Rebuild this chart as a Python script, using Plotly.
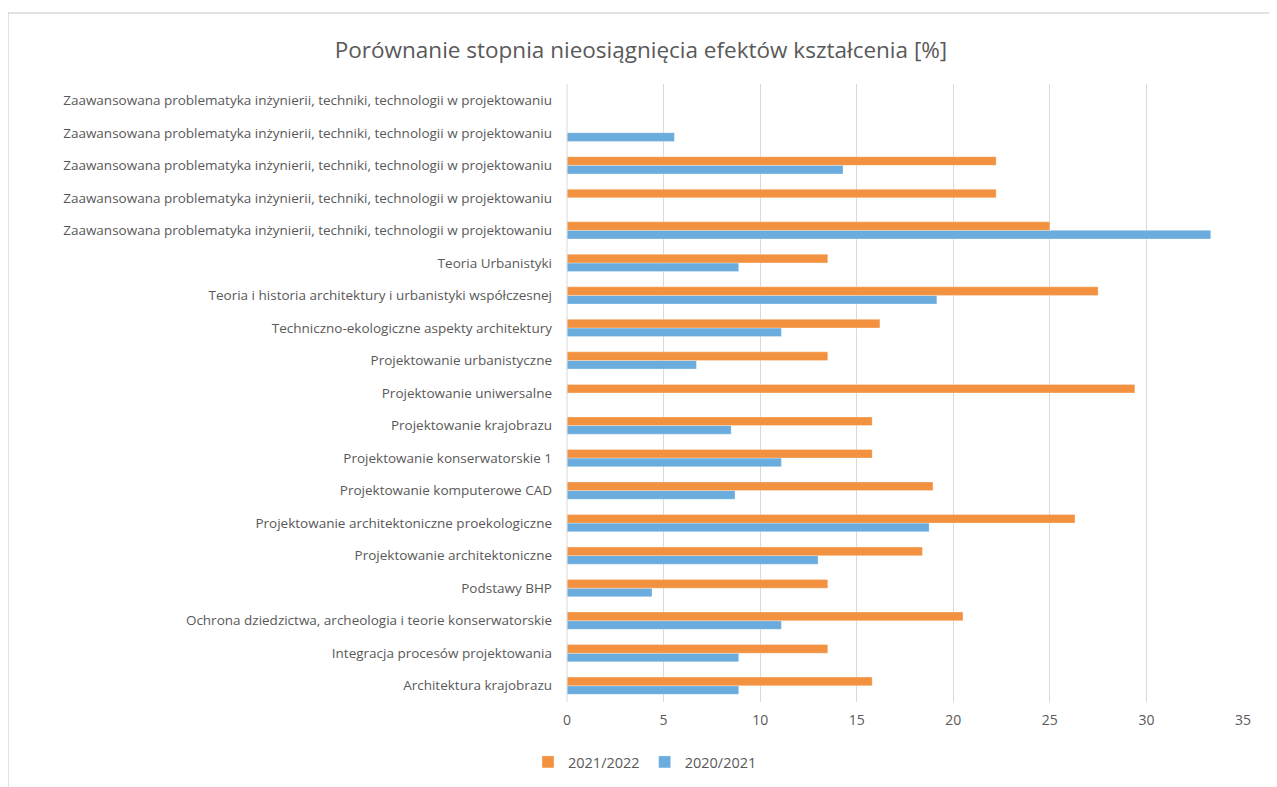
import plotly.graph_objects as go

# Categories listed from bottom to top of the chart
categories = [
    "Architektura krajobrazu",
    "Integracja procesów projektowania",
    "Ochrona dziedzictwa, archeologia i teorie konserwatorskie",
    "Podstawy BHP",
    "Projektowanie architektoniczne",
    "Projektowanie architektoniczne proekologiczne",
    "Projektowanie komputerowe CAD",
    "Projektowanie konserwatorskie 1",
    "Projektowanie krajobrazu",
    "Projektowanie uniwersalne",
    "Projektowanie urbanistyczne",
    "Techniczno-ekologiczne aspekty architektury",
    "Teoria i historia architektury i urbanistyki współczesnej",
    "Teoria Urbanistyki",
    "Zaawansowana problematyka inżynierii, techniki, technologii w projektowaniu",
    "Zaawansowana problematyka inżynierii, techniki, technologii w projektowaniu",
    "Zaawansowana problematyka inżynierii, techniki, technologii w projektowaniu",
    "Zaawansowana problematyka inżynierii, techniki, technologii w projektowaniu",
    "Zaawansowana problematyka inżynierii, techniki, technologii w projektowaniu",
]

values_2021_2022 = [15.8, 13.5, 20.5, 13.5, 18.4, 26.3, 18.95, 15.8, 15.8, 29.4,
                    13.5, 16.2, 27.5, 13.5, 25.0, 22.22, 22.22, None, None]
values_2020_2021 = [8.89, 8.89, 11.1, 4.4, 13.0, 18.75, 8.7, 11.1, 8.5, None,
                    6.7, 11.1, 19.15, 8.89, 33.33, None, 14.29, 5.56, None]

x_ticks = [0, 5, 10, 15, 20, 25, 30, 35]

colors = {"2020/2021": "#6AACDE", "2021/2022": "#F29240"}

positions = list(range(len(categories)))

fig = go.Figure()
fig.add_trace(go.Bar(
    y=positions, x=values_2020_2021, orientation="h", name="2020/2021",
    marker=dict(color=colors["2020/2021"], line=dict(color="rgba(255,255,255,0.6)", width=0.5)),
))
fig.add_trace(go.Bar(
    y=positions, x=values_2021_2022, orientation="h", name="2021/2022",
    marker=dict(color=colors["2021/2022"], line=dict(color="rgba(255,255,255,0.6)", width=0.5)),
))

# page body adds an 8px offset, so figure coordinates = screen - 8
OFF = 8
W, H = 1277, 787
L, R, T, B = 567 - OFF, 1243 - OFF, 84 - OFF, 702 - OFF

def px_to_paper_x(px):
    return (px - OFF - L) / (R - L)

def px_to_paper_y(py):
    return (B - (py - OFF)) / (B - T)

fig.update_layout(
    width=W, height=H,
    margin=dict(l=L, r=W - R, t=T, b=H - B, autoexpand=False),
    paper_bgcolor="white", plot_bgcolor="white",
    font=dict(family="Open Sans, Noto Sans, sans-serif", color="#595959", size=13.5),
    title=dict(
        text="Porównanie stopnia nieosiągnięcia efektów kształcenia [%]",
        x=(641 - OFF) / W, xanchor="center", xref="container",
        y=1 - (50 - OFF) / H, yanchor="middle", yref="container",
        font=dict(size=22.5, color="#595959"),
    ),
    barmode="group", bargap=0.47, bargroupgap=0.0,
    showlegend=True,
    legend=dict(
        orientation="h", traceorder="reversed",
        x=(645 - OFF) / W, xanchor="center", xref="container",
        y=1 - (762 - OFF) / H, yanchor="middle", yref="container",
        font=dict(size=14.5, color="#595959"),
        itemwidth=30,
    ),
    xaxis=dict(
        range=[0, 35], tickvals=x_ticks, ticktext=[str(t) for t in x_ticks],
        showgrid=True, gridcolor="#D9D9D9", gridwidth=1,
        zeroline=False, showline=False, ticks="",
        ticklabelstandoff=8,
        tickfont=dict(size=14, color="#595959"),
    ),
    yaxis=dict(
        range=[-0.5, len(categories) - 0.5],
        tickvals=positions, ticktext=categories,
        showgrid=False, zeroline=False, showline=False, ticks="",
        ticklabelstandoff=14,
        tickfont=dict(size=13.5, color="#595959"),
    ),
    shapes=[
        dict(type="line", xref="paper", yref="paper",
             x0=0, x1=0, y0=0, y1=1,
             line=dict(color="#D9D9D9", width=1)),
        dict(type="path", xref="paper", yref="paper",
             path=(f"M {px_to_paper_x(8)} {px_to_paper_y(810)} "
                   f"L {px_to_paper_x(8)} {px_to_paper_y(13)} "
                   f"L {px_to_paper_x(1275)} {px_to_paper_y(13)} "
                   f"L {px_to_paper_x(1275)} {px_to_paper_y(810)}"),
             line=dict(color="#D9D9D9", width=1.5), layer="below"),
    ],
)

fig.write_html("out.html")
